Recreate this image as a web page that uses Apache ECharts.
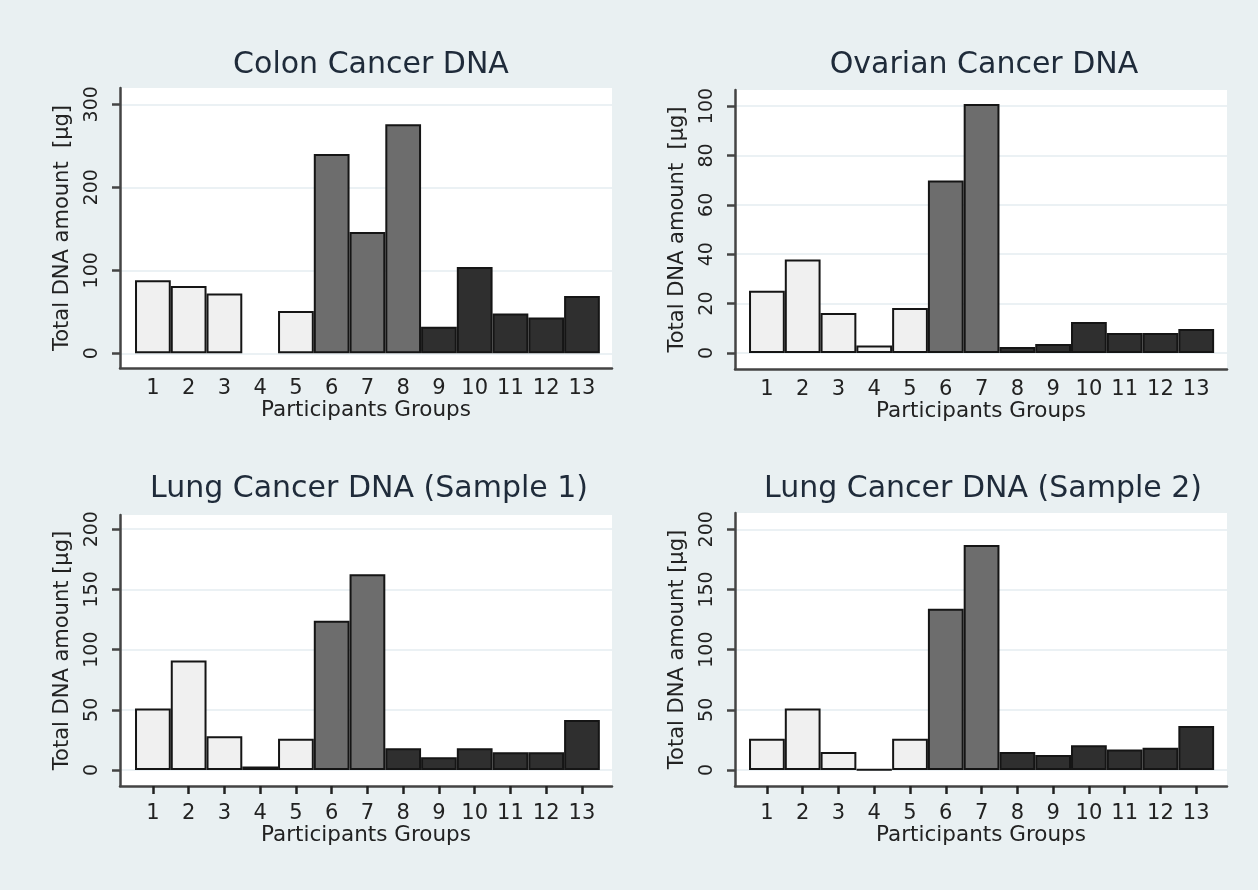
<!DOCTYPE html>
<html><head><meta charset="utf-8">
<script src="https://cdn.jsdelivr.net/npm/echarts@6/dist/echarts.min.js"></script>
<style>html,body{margin:0;padding:0;background:#e9f0f2;} #c{width:1258px;height:890px;}</style>
</head><body><div id="c"></div>
<script>
// ---- data ----
const groups = [1, 2, 3, 4, 5, 6, 7, 8, 9, 10, 11, 12, 13];
const panelTitles = ['Colon Cancer DNA', 'Ovarian Cancer DNA', 'Lung Cancer DNA (Sample 1)', 'Lung Cancer DNA (Sample 2)'];
const yAxisTitles = ['Total DNA amount  [\u03bcg]', 'Total DNA amount  [\u03bcg]', 'Total DNA amount [\u03bcg]', 'Total DNA amount [\u03bcg]'];
const xAxisTitle = 'Participants Groups';
const colonValues   = [88, 81, 72, null, 51, 240, 146, 276, 32, 104, 48, 43, 69];
const ovarianValues = [25.2, 37.8, 16.2, 3, 18.2, 69.8, 100.8, 2.4, 3.6, 12.5, 8.1, 8.1, 9.7];
const lung1Values   = [51, 91, 28, 2.8, 26, 124, 162.5, 18, 10.5, 18, 14.7, 14.7, 41.5];
const lung2Values   = [26, 51, 15, 0.4, 26, 134, 187, 15, 12.5, 20.5, 17, 18.5, 36.5];
const colonShades = ['light','light','light','light','light','mid','mid','mid','dark','dark','dark','dark','dark'];
const otherShades = ['light','light','light','light','light','mid','mid','dark','dark','dark','dark','dark','dark'];
const colonTicks   = [0, 100, 200, 300];
const ovarianTicks = [0, 20, 40, 60, 80, 100];
const lungTicks    = [0, 50, 100, 150, 200];

// ---- styling / layout ----
const shadeColor = { light: '#f0f0f0', mid: '#6d6d6d', dark: '#2f2f2f' };
const FONT = 'DejaVu Sans';
const axisColor = '#444444';
const textColor = '#222222';

const panels = [
  { vals: colonValues,   shades: colonShades, ticks: colonTicks,   grid: {left:120, top:88,  width:492, height:280}, yMin:-17.7, yMax:319.6, xMin:0.08,  xMax:13.84, xTicks:false, titleX:371, titleTop:50 },
  { vals: ovarianValues, shades: otherShades, ticks: ovarianTicks, grid: {left:735, top:90,  width:492, height:279}, yMin:-6.5,  yMax:106.5, xMin:0.108, xMax:13.86, xTicks:false, titleX:984, titleTop:50 },
  { vals: lung1Values,   shades: otherShades, ticks: lungTicks,    grid: {left:120, top:515, width:492, height:271}, yMin:-13.3, yMax:211.8, xMin:0.08,  xMax:13.84, xTicks:true,  titleX:369, titleTop:474 },
  { vals: lung2Values,   shades: otherShades, ticks: lungTicks,    grid: {left:735, top:513, width:492, height:273}, yMin:-13.3, yMax:213.5, xMin:0.108, xMax:13.86, xTicks:true,  titleX:983, titleTop:474 }
];

const option = {
  animation: false,
  backgroundColor: '#e9f0f2',
  textStyle: { fontFamily: FONT },
  title: panels.map((p, i) => ({
    text: panelTitles[i], left: p.titleX, top: p.titleTop, textAlign: 'center', padding: 0,
    textStyle: { fontFamily: FONT, fontSize: 30, fontWeight: 'normal', color: '#1f2b3a' }
  })),
  grid: panels.map(p => Object.assign({ show: true, backgroundColor: '#ffffff', borderWidth: 0, containLabel: false }, p.grid)),
  xAxis: panels.map((p, i) => ({
    type: 'value', gridIndex: i, min: p.xMin, max: p.xMax,
    axisLine: { show: true, onZero: false, lineStyle: { color: axisColor, width: 2.5 } },
    axisTick: { show: p.xTicks, inside: false, customValues: groups, length: 8, lineStyle: { color: '#222222', width: 2.5 } },
    axisLabel: { customValues: groups, margin: p.xTicks ? 17 : 10, fontSize: 21, color: textColor, fontFamily: FONT },
    splitLine: { show: false },
    name: xAxisTitle, nameLocation: 'middle', nameGap: p.xTicks ? 36 : 28,
    nameTextStyle: { fontSize: 21.5, color: textColor, fontFamily: FONT }
  })),
  yAxis: panels.map((p, i) => ({
    type: 'value', gridIndex: i, min: p.yMin, max: p.yMax,
    axisLine: { show: true, onZero: false, lineStyle: { color: axisColor, width: 2.5 } },
    axisTick: { show: true, customValues: p.ticks, length: 8, lineStyle: { color: axisColor, width: 2.5 } },
    axisLabel: { customValues: p.ticks, rotate: 90, margin: 18, fontSize: 19, color: textColor, fontFamily: FONT },
    splitLine: { show: true, lineStyle: { color: '#e5edf0', width: 1.5 } },
    name: yAxisTitles[i], nameLocation: 'middle', nameGap: 47, nameRotate: 90,
    nameTextStyle: { fontSize: 21, color: textColor, fontFamily: FONT }
  })),
  series: panels.map((p, i) => ({
    type: 'bar', xAxisIndex: i, yAxisIndex: i, barWidth: '100%',
    itemStyle: { borderColor: '#151515', borderWidth: 2 },
    data: groups.map((g, k) => ({
      value: [g, p.vals[k] == null ? '-' : p.vals[k]],
      itemStyle: { color: shadeColor[p.shades[k]] }
    }))
  }))
};

const chart = echarts.init(document.getElementById('c'), null, { renderer: 'canvas' });
chart.setOption(option);
</script>
</body></html>
